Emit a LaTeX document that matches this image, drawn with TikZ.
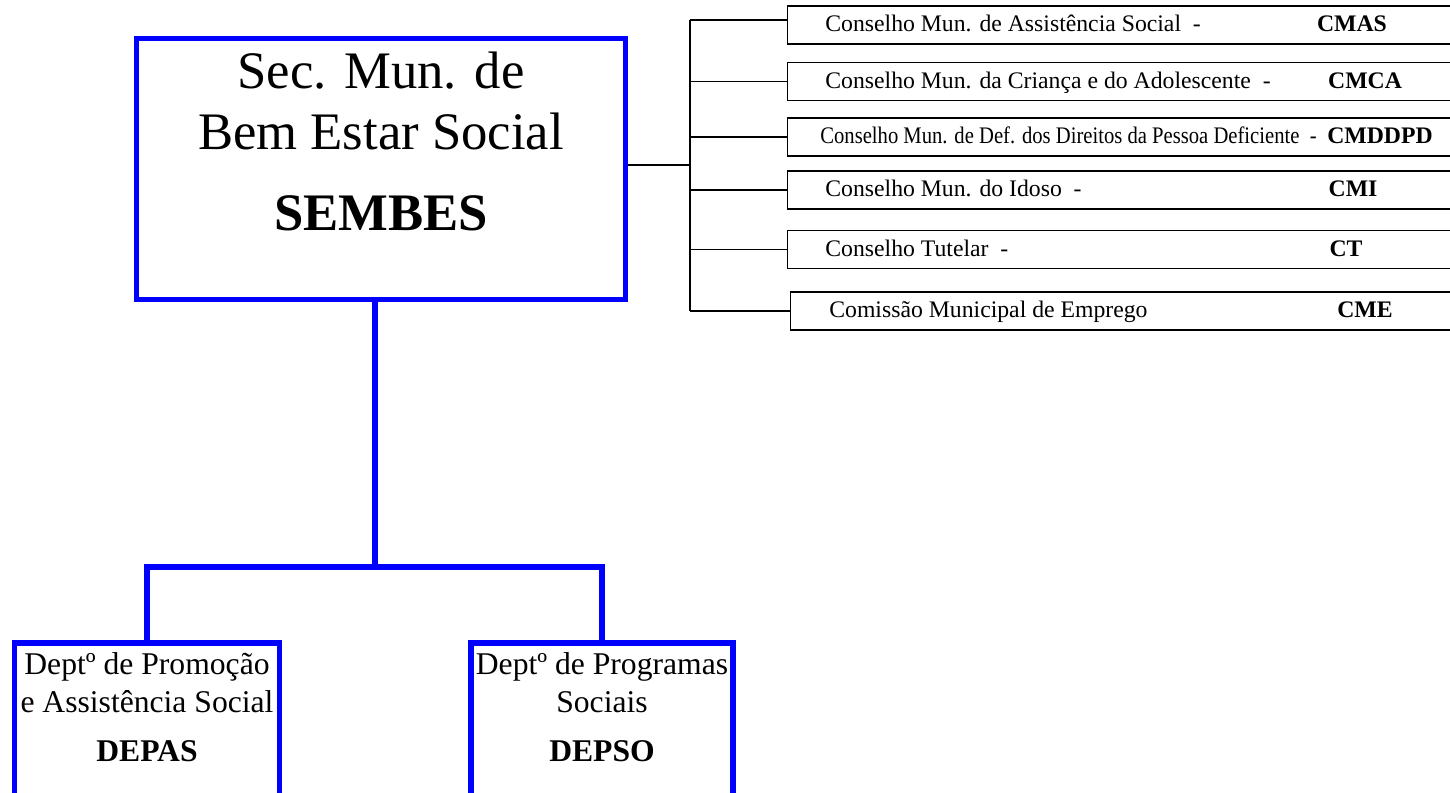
\documentclass[tikz,border=0pt]{standalone}
\usepackage{fontspec}
\setmainfont{Liberation Serif}
\usepackage{graphicx}
\usetikzlibrary{calc}

\newcommand{\bigtxt}{\fontsize{30}{36}\selectfont}
\newcommand{\midtxt}{\fontsize{18}{22}\selectfont}
\newcommand{\smalltxt}{\fontsize{13.5}{16}\selectfont}

\tikzset{
  bluebox/.style={draw=blue, line width=2.9pt, rectangle, inner sep=0pt},
  blueline/.style={draw=blue, line width=2.9pt},
  councilbox/.style={draw=black, line width=0.8pt, rectangle, inner sep=0pt,
    anchor=west, minimum width=13.5cm, minimum height=0.76cm},
  thinline/.style={draw=black, line width=0.8pt},
  councilname/.style={anchor=base west, inner sep=0pt, font=\smalltxt},
  councilabbr/.style={anchor=base, inner sep=0pt, font=\smalltxt\bfseries},
  boxtext/.style={anchor=base, inner sep=0pt}
}

\begin{document}
\begin{tikzpicture}[x=0.02cm, y=-0.02cm]
\clip (0,0) rectangle (1450,792);
% the secretary
\node[bluebox, minimum width=9.78cm, minimum height=5.22cm] (sembes) at (381,169) {};
\node[boxtext, font=\bigtxt] (sembes1) at (381,88) {Sec. Mun. de};
\node[boxtext, font=\bigtxt] (sembes2) at (381,149) {Bem Estar Social};
\node[boxtext, font=\bigtxt\bfseries] (sembes3) at (381,230) {SEMBES};
% the two departments
\node[bluebox, minimum width=5.3cm, minimum height=3.4cm] (depas) at (147,728) {};
\node[boxtext, font=\midtxt] (depas1) at (147,674) {Deptº de Promoção};
\node[boxtext, font=\midtxt] (depas2) at (147,712) {e Assistência Social};
\node[boxtext, font=\midtxt\bfseries] (depas3) at (147,761) {DEPAS};
\node[bluebox, minimum width=5.24cm, minimum height=3.4cm] (depso) at (602,728) {};
\node[boxtext, font=\midtxt] (depso1) at (602,674) {Deptº de Programas};
\node[boxtext, font=\midtxt] (depso2) at (602,712) {Sociais};
\node[boxtext, font=\midtxt\bfseries] (depso3) at (602,761) {DEPSO};
\coordinate (hub) at (375,567);
\draw[blueline] (sembes.south -| hub) -- (hub);
\draw[blueline] (depas.north) |- (hub) -| (depso.north);
% the councils
\node[councilbox] (c1) at (787,25) {};
\node[councilbox] (c2) at (787,81.5) {};
\node[councilbox] (c3) at (787,137) {};
\node[councilbox] (c4) at (787,190) {};
\node[councilbox] (c5) at (787,249.5) {};
\node[councilbox] (c6) at (790,311) {};
%     names
\node[councilname] (n1) at (825,31) {Conselho Mun. de Assistência Social~~-};
\node[councilname] (n2) at (825,88) {Conselho Mun. da Criança e do Adolescente~~-};
\node[councilname] (n3) at (820,143) {\scalebox{0.87}[1]{Conselho Mun. de Def. dos Direitos da Pessoa Deficiente~~-}};
\node[councilname] (n4) at (825,196) {Conselho Mun. do Idoso~~-};
\node[councilname] (n5) at (825,256) {Conselho Tutelar~~-};
\node[councilname] (n6) at (829,317) {Comissão Municipal de Emprego};
%     abbreviations
\node[councilabbr] (a1) at (1352,31) {CMAS};
\node[councilabbr] (a2) at (1365,88) {CMCA};
\node[councilabbr] (a3) at (1380,143) {CMDDPD};
\node[councilabbr] (a4) at (1353,196) {CMI};
\node[councilabbr] (a5) at (1346,256) {CT};
\node[councilabbr] (a6) at (1365,317) {CME};
% the bracket
\coordinate (spine) at (690,165);
\coordinate (top) at (690,20);
\draw[thinline] (sembes.east |- spine) -- (spine);
\draw[thinline] (top) -- (c6.west -| spine);
\draw[thinline] (top) -- (top -| c1.west);
\draw[thinline] (c2.west -| spine) -- (c2.west);
\draw[thinline] (c3.west -| spine) -- (c3.west);
\draw[thinline] (c4.west -| spine) -- (c4.west);
\draw[thinline] (c5.west -| spine) -- (c5.west);
\draw[thinline] (c6.west -| spine) -- (c6.west);
\end{tikzpicture}
\end{document}
